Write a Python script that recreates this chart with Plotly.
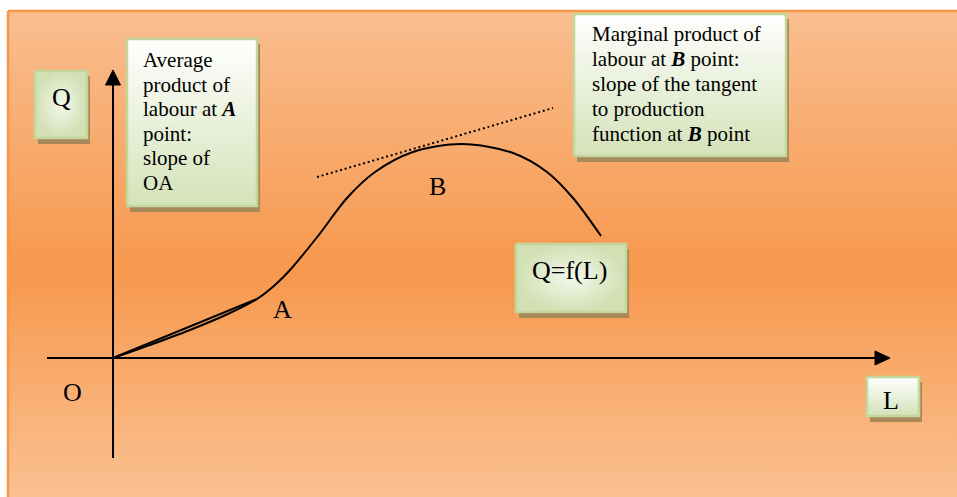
import plotly.graph_objects as go

W, H = 957, 497          # canvas size (px)
OX, OY = 113, 358        # pixel position of the origin O

# ---- schematic data (L, Q units; origin at O) ----
L_vals = [0, 37, 77, 117, 144, 162, 177, 205, 234, 262, 300, 349, 400, 434, 460, 488]
Q_vals = [0, 13, 28, 45, 59, 73, 88, 122, 160, 186, 206, 214, 205, 186, 160, 122]
point_A = [144, 59]
tangent_L = [204, 440]
tangent_Q = [181, 250]
axis_L = [-66, 762]
axis_Q = [-100, 273]
arrow_len = 15

avg_lines = ["Average", "product of", "labour at <b><i>A</i></b>", "point:", "slope of", "OA"]
mpl_lines = ["Marginal product of", "labour at <b><i>B</i></b> point:", "slope of the tangent",
             "to production", "function at <b><i>B</i></b> point"]


def X(p):
    return p - OX


def Y(p):
    return OY - p


def rect(x0, y0, x1, y1):
    return ([X(x0), X(x1), X(x1), X(x0), X(x0)], [Y(y0), Y(y0), Y(y1), Y(y1), Y(y0)])


fig = go.Figure()

# background panel with vertical gradient
xs, ys = rect(8, 11, W + 3, H + 3)
fig.add_trace(go.Scatter(
    x=xs, y=ys, mode="lines", fill="toself",
    line=dict(color="#F79646", width=2.5),
    fillgradient=dict(type="vertical", start=Y(H + 3), stop=Y(11),
                      colorscale=[[0, "#FAC192"], [0.47, "#F7984D"], [1, "#F9BE90"]]),
    hoverinfo="skip", showlegend=False))

# curve, chord, axes, tangent
fig.add_trace(go.Scatter(x=L_vals, y=Q_vals, mode="lines",
                         line=dict(color="black", width=2, shape="spline", smoothing=0.9),
                         hoverinfo="skip", showlegend=False))
fig.add_trace(go.Scatter(x=[0, point_A[0]], y=[0, point_A[1]], mode="lines",
                         line=dict(color="black", width=2), hoverinfo="skip", showlegend=False))
fig.add_trace(go.Scatter(x=axis_L, y=[0, 0], mode="lines",
                         line=dict(color="black", width=2), hoverinfo="skip", showlegend=False))
fig.add_trace(go.Scatter(x=[0, 0], y=axis_Q, mode="lines",
                         line=dict(color="black", width=2), hoverinfo="skip", showlegend=False))
fig.add_trace(go.Scatter(x=tangent_L, y=tangent_Q, mode="lines",
                         line=dict(color="black", width=2, dash="2px,2.8px"),
                         hoverinfo="skip", showlegend=False))
# arrowheads
fig.add_trace(go.Scatter(
    x=[axis_L[1], axis_L[1] + arrow_len, axis_L[1], axis_L[1]],
    y=[7, 0, -7, 7], mode="lines", fill="toself", fillcolor="black",
    line=dict(color="black", width=1), hoverinfo="skip", showlegend=False))
fig.add_trace(go.Scatter(
    x=[-7.5, 0, 7.5, -7.5],
    y=[axis_Q[1], axis_Q[1] + arrow_len, axis_Q[1], axis_Q[1]], mode="lines", fill="toself",
    fillcolor="black", line=dict(color="black", width=1), hoverinfo="skip", showlegend=False))

# text boxes (pixel boxes)
boxes = [
    (34, 70, 88, 139, "radial"),
    (126, 38, 258, 207, "vertical"),
    (573, 13, 787, 157, "vertical"),
    (515, 243, 627, 313, "radial"),
    (866, 376, 920, 417, "vertical"),
]
for x0, y0, x1, y1, kind in boxes:
    sx, sy = rect(x0 + 4, y0 + 6, x1 + 2, y1 + 5)
    fig.add_trace(go.Scatter(x=sx, y=sy, mode="lines", fill="toself", fillcolor="#A8895B",
                             line=dict(width=0), hoverinfo="skip", showlegend=False))
    bx, by = rect(x0 + 1, y0 + 1, x1 - 1, y1 - 1)
    if kind == "vertical":
        grad = dict(type="vertical", colorscale=[[0, "#D4E2B8"], [1, "#FFFFFF"]])
    else:
        grad = dict(type="radial", colorscale=[[0, "#F3F7EC"], [1, "#D2E0B4"]])
    fig.add_trace(go.Scatter(x=bx, y=by, mode="lines", fill="toself", fillgradient=grad,
                             line=dict(color="#C3D69B", width=2.5), hoverinfo="skip",
                             showlegend=False))

font = dict(family="Liberation Serif", color="black", size=21)
ann = []
for i, t in enumerate(avg_lines):
    ann.append(dict(x=X(141), y=Y(60 + i * 24.5), text=t, xanchor="left", yanchor="middle",
                    showarrow=False, font=font))
for i, t in enumerate(mpl_lines):
    ann.append(dict(x=X(590), y=Y(33.5 + i * 25), text=t, xanchor="left", yanchor="middle",
                    showarrow=False, font=font))
big = dict(family="Liberation Serif", color="black", size=26)
for t, px, pyy in [("Q", 61, 97), ("Q=f(L)", 569, 270), ("L", 891, 400),
                   ("A", 282, 309), ("B", 437, 186), ("O", 72, 392)]:
    ann.append(dict(x=X(px), y=Y(pyy), text=t, xanchor="center", yanchor="middle",
                    showarrow=False, font=big))

fig.update_layout(
    width=W, height=H, margin=dict(l=0, r=0, t=0, b=0),
    paper_bgcolor="white", plot_bgcolor="white",
    xaxis=dict(range=[X(0), X(W)], visible=False, fixedrange=True),
    yaxis=dict(range=[Y(H), Y(0)], visible=False, fixedrange=True),
    annotations=ann, showlegend=False,
)

fig.write_html("out.html", config=dict(displayModeBar=False),
               post_script="document.body.style.margin='0';")
